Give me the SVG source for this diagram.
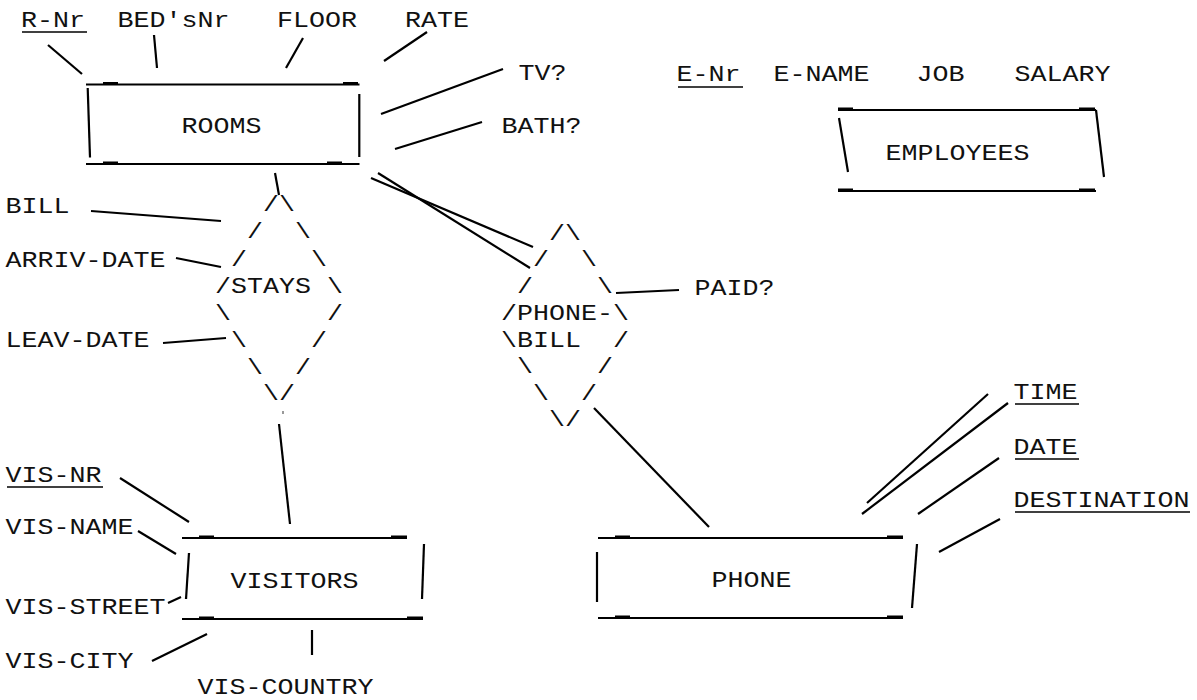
<svg xmlns="http://www.w3.org/2000/svg" width="1197" height="700" viewBox="0 0 1197 700">
<style>
text{font-family:"Liberation Mono","Courier New",monospace;font-size:22px;fill:#111}
.c line{stroke:#000;stroke-width:2.2;fill:none}
.b line{stroke:#000;stroke-width:2.2}
.u{fill:#000}
.ul{stroke:#000;stroke-width:1.6}
</style>
<rect width="1197" height="700" fill="#fff"/>

<!-- attribute labels -->
<g id="attr-rnr"><text x="21" y="27" textLength="64" lengthAdjust="spacingAndGlyphs">R-Nr</text><line class="ul" x1="22" y1="32" x2="87" y2="32"/></g>
<g id="attr-beds"><text x="117.5" y="27" textLength="112" lengthAdjust="spacingAndGlyphs">BED'sNr</text></g>
<g id="attr-floor"><text x="277" y="27" textLength="80" lengthAdjust="spacingAndGlyphs">FLOOR</text></g>
<g id="attr-rate"><text x="405" y="27" textLength="64" lengthAdjust="spacingAndGlyphs">RATE</text></g>
<g id="attr-tv"><text x="518.5" y="80" textLength="48" lengthAdjust="spacingAndGlyphs">TV?</text></g>
<g id="attr-bath"><text x="501.5" y="133" textLength="80" lengthAdjust="spacingAndGlyphs">BATH?</text></g>
<g id="attr-bill"><text x="5.5" y="213" textLength="64" lengthAdjust="spacingAndGlyphs">BILL</text></g>
<g id="attr-arriv"><text x="5.5" y="267" textLength="160" lengthAdjust="spacingAndGlyphs">ARRIV-DATE</text></g>
<g id="attr-leav"><text x="5.5" y="347" textLength="144" lengthAdjust="spacingAndGlyphs">LEAV-DATE</text></g>
<g id="attr-paid"><text x="694.5" y="295" textLength="80" lengthAdjust="spacingAndGlyphs">PAID?</text></g>
<g id="attr-enr"><text x="676.5" y="81" textLength="64" lengthAdjust="spacingAndGlyphs">E-Nr</text><line class="ul" x1="678" y1="87" x2="743" y2="87"/></g>
<g id="attr-ename"><text x="773.5" y="81" textLength="96" lengthAdjust="spacingAndGlyphs">E-NAME</text></g>
<g id="attr-job"><text x="916.5" y="81" textLength="48" lengthAdjust="spacingAndGlyphs">JOB</text></g>
<g id="attr-salary"><text x="1014.5" y="81" textLength="96" lengthAdjust="spacingAndGlyphs">SALARY</text></g>
<g id="attr-visnr"><text x="5.5" y="482" textLength="96" lengthAdjust="spacingAndGlyphs">VIS-NR</text><line class="ul" x1="7" y1="487" x2="103" y2="487"/></g>
<g id="attr-visname"><text x="5.5" y="534" textLength="128" lengthAdjust="spacingAndGlyphs">VIS-NAME</text></g>
<g id="attr-visstreet"><text x="5.5" y="614" textLength="160" lengthAdjust="spacingAndGlyphs">VIS-STREET</text></g>
<g id="attr-viscity"><text x="5.5" y="668" textLength="128" lengthAdjust="spacingAndGlyphs">VIS-CITY</text></g>
<g id="attr-viscountry"><text x="197.5" y="694" textLength="176" lengthAdjust="spacingAndGlyphs">VIS-COUNTRY</text></g>
<g id="attr-time"><text x="1013.5" y="399" textLength="64" lengthAdjust="spacingAndGlyphs">TIME</text><line class="ul" x1="1015" y1="404" x2="1079" y2="404"/></g>
<g id="attr-date"><text x="1013.5" y="454" textLength="64" lengthAdjust="spacingAndGlyphs">DATE</text><line class="ul" x1="1015" y1="459" x2="1079" y2="459"/></g>
<g id="attr-destination"><text x="1013.5" y="507" textLength="176" lengthAdjust="spacingAndGlyphs">DESTINATION</text><line class="ul" x1="1015" y1="512" x2="1190" y2="512"/></g>

<!-- entity ROOMS -->
<g id="rooms" class="b">
<line x1="86" y1="84.5" x2="359.5" y2="84.5"/>
<rect class="u" x="103" y="82" width="15" height="2"/><rect class="u" x="343" y="82" width="15" height="2"/>
<line x1="87.7" y1="88" x2="90" y2="157.5"/>
<line x1="359.3" y1="94" x2="359.3" y2="157"/>
<line x1="86" y1="164" x2="359.5" y2="164"/>
<rect class="u" x="103" y="161.5" width="15" height="2"/><rect class="u" x="327" y="161.5" width="15" height="2"/>
<text x="181.5" y="133" textLength="80" lengthAdjust="spacingAndGlyphs">ROOMS</text>
</g>

<!-- entity EMPLOYEES -->
<g id="employees" class="b">
<line x1="838" y1="110" x2="1096" y2="110"/>
<rect class="u" x="838" y="107.5" width="15" height="2"/><rect class="u" x="1079" y="107.5" width="16" height="2"/>
<line x1="839" y1="118" x2="848" y2="172"/>
<line x1="1096" y1="110" x2="1104" y2="177"/>
<line x1="838" y1="191" x2="1096" y2="191"/>
<rect class="u" x="838" y="188.5" width="15" height="2"/><rect class="u" x="1079" y="188.5" width="16" height="2"/>
<text x="885.5" y="160" textLength="144" lengthAdjust="spacingAndGlyphs">EMPLOYEES</text>
</g>

<!-- entity VISITORS -->
<g id="visitors" class="b">
<line x1="182" y1="538" x2="407" y2="538"/>
<rect class="u" x="199" y="535.5" width="15" height="2"/><rect class="u" x="391" y="535.5" width="16" height="2"/>
<line x1="189" y1="553" x2="186" y2="599"/>
<line x1="424" y1="544" x2="422" y2="599"/>
<line x1="182" y1="619" x2="423" y2="619"/>
<rect class="u" x="199" y="616.5" width="15" height="2"/><rect class="u" x="407" y="616.5" width="16" height="2"/>
<text x="230.5" y="588" textLength="128" lengthAdjust="spacingAndGlyphs">VISITORS</text>
</g>

<!-- entity PHONE -->
<g id="phone" class="b">
<line x1="598" y1="538" x2="903" y2="538"/>
<rect class="u" x="615" y="535.5" width="15" height="2"/><rect class="u" x="887" y="535.5" width="16" height="2"/>
<line x1="597" y1="552" x2="597" y2="602"/>
<line x1="917" y1="544" x2="912" y2="608"/>
<line x1="598" y1="618" x2="903" y2="618"/>
<rect class="u" x="615" y="615.5" width="15" height="2"/><rect class="u" x="887" y="615.5" width="16" height="2"/>
<text x="711.5" y="587" textLength="80" lengthAdjust="spacingAndGlyphs">PHONE</text>
</g>

<!-- relationship STAYS -->
<g id="stays">
<text x="263" y="210.5" textLength="16" lengthAdjust="spacingAndGlyphs">/</text><text x="279" y="210.5" textLength="16" lengthAdjust="spacingAndGlyphs">\</text>
<text x="247" y="238" textLength="16" lengthAdjust="spacingAndGlyphs">/</text><text x="295" y="238" textLength="16" lengthAdjust="spacingAndGlyphs">\</text>
<text x="231" y="265.5" textLength="16" lengthAdjust="spacingAndGlyphs">/</text><text x="311" y="265.5" textLength="16" lengthAdjust="spacingAndGlyphs">\</text>
<text x="215" y="293" textLength="16" lengthAdjust="spacingAndGlyphs">/</text><text x="231" y="293" textLength="80" lengthAdjust="spacingAndGlyphs">STAYS</text><text x="327" y="293" textLength="16" lengthAdjust="spacingAndGlyphs">\</text>
<text x="215" y="320" textLength="16" lengthAdjust="spacingAndGlyphs">\</text><text x="327" y="320" textLength="16" lengthAdjust="spacingAndGlyphs">/</text>
<text x="231" y="346.5" textLength="16" lengthAdjust="spacingAndGlyphs">\</text><text x="311" y="346.5" textLength="16" lengthAdjust="spacingAndGlyphs">/</text>
<text x="247" y="373.5" textLength="16" lengthAdjust="spacingAndGlyphs">\</text><text x="295" y="373.5" textLength="16" lengthAdjust="spacingAndGlyphs">/</text>
<text x="263" y="400" textLength="16" lengthAdjust="spacingAndGlyphs">\</text><text x="279" y="400" textLength="16" lengthAdjust="spacingAndGlyphs">/</text>
<line x1="283" y1="411" x2="283" y2="414" stroke="#555" stroke-width="1.2"/>
</g>

<!-- relationship PHONE-BILL -->
<g id="phone-bill">
<text x="549" y="239.5" textLength="16" lengthAdjust="spacingAndGlyphs">/</text><text x="565" y="239.5" textLength="16" lengthAdjust="spacingAndGlyphs">\</text>
<text x="533" y="266" textLength="16" lengthAdjust="spacingAndGlyphs">/</text><text x="581" y="266" textLength="16" lengthAdjust="spacingAndGlyphs">\</text>
<text x="517" y="292.5" textLength="16" lengthAdjust="spacingAndGlyphs">/</text><text x="597" y="292.5" textLength="16" lengthAdjust="spacingAndGlyphs">\</text>
<text x="501" y="320" textLength="16" lengthAdjust="spacingAndGlyphs">/</text><text x="517" y="320" textLength="96" lengthAdjust="spacingAndGlyphs">PHONE-</text><text x="613" y="320" textLength="16" lengthAdjust="spacingAndGlyphs">\</text>
<text x="501" y="346.5" textLength="16" lengthAdjust="spacingAndGlyphs">\</text><text x="517" y="346.5" textLength="64" lengthAdjust="spacingAndGlyphs">BILL</text><text x="613" y="346.5" textLength="16" lengthAdjust="spacingAndGlyphs">/</text>
<text x="517" y="373" textLength="16" lengthAdjust="spacingAndGlyphs">\</text><text x="597" y="373" textLength="16" lengthAdjust="spacingAndGlyphs">/</text>
<text x="533" y="399.5" textLength="16" lengthAdjust="spacingAndGlyphs">\</text><text x="581" y="399.5" textLength="16" lengthAdjust="spacingAndGlyphs">/</text>
<text x="549" y="426" textLength="16" lengthAdjust="spacingAndGlyphs">\</text><text x="565" y="426" textLength="16" lengthAdjust="spacingAndGlyphs">/</text>
</g>

<!-- connectors -->
<g id="connectors" class="c">
<line x1="48" y1="45" x2="82" y2="74"/>
<line x1="154" y1="35" x2="157" y2="68"/>
<line x1="303" y1="38" x2="286" y2="68"/>
<line x1="427" y1="32" x2="384" y2="61"/>
<line x1="503" y1="69" x2="381" y2="114"/>
<line x1="482" y1="122" x2="395" y2="149"/>
<line x1="275" y1="173" x2="279" y2="195"/>
<line x1="371" y1="178" x2="533" y2="247"/>
<line x1="378" y1="173" x2="530" y2="268"/>
<line x1="91" y1="211" x2="221" y2="221"/>
<line x1="176" y1="258" x2="221" y2="267"/>
<line x1="163" y1="343" x2="226" y2="338"/>
<line x1="616" y1="293" x2="679" y2="290"/>
<line x1="279" y1="424" x2="290" y2="524"/>
<line x1="594" y1="408" x2="709" y2="527"/>
<line x1="120" y1="478" x2="189" y2="522"/>
<line x1="138" y1="531" x2="176" y2="554"/>
<line x1="168" y1="603" x2="181" y2="597"/>
<line x1="152" y1="661" x2="207" y2="634"/>
<line x1="312" y1="630" x2="312" y2="655"/>
<line x1="988" y1="394" x2="867" y2="503"/>
<line x1="1008" y1="403" x2="862" y2="514"/>
<line x1="999" y1="458" x2="918" y2="514"/>
<line x1="1000" y1="519" x2="939" y2="552"/>
</g>
</svg>
